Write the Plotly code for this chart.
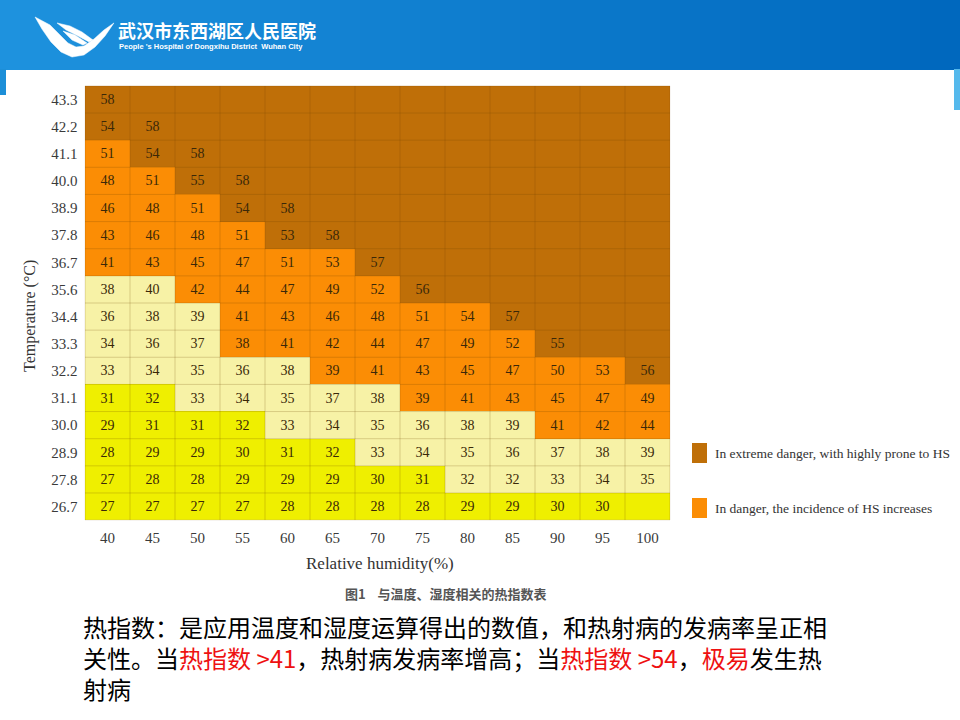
import plotly.graph_objects as go

# heat index table: humidity columns, temperature rows (top to bottom)
humidity = [40, 45, 50, 55, 60, 65, 70, 75, 80, 85, 90, 95, 100]
temperature = ["43.3", "42.2", "41.1", "40.0", "38.9", "37.8", "36.7", "35.6",
               "34.4", "33.3", "32.2", "31.1", "30.0", "28.9", "27.8", "26.7"]

heat_index = [
    [58, None, None, None, None, None, None, None, None, None, None, None, None],
    [54, 58, None, None, None, None, None, None, None, None, None, None, None],
    [51, 54, 58, None, None, None, None, None, None, None, None, None, None],
    [48, 51, 55, 58, None, None, None, None, None, None, None, None, None],
    [46, 48, 51, 54, 58, None, None, None, None, None, None, None, None],
    [43, 46, 48, 51, 53, 58, None, None, None, None, None, None, None],
    [41, 43, 45, 47, 51, 53, 57, None, None, None, None, None, None],
    [38, 40, 42, 44, 47, 49, 52, 56, None, None, None, None, None],
    [36, 38, 39, 41, 43, 46, 48, 51, 54, 57, None, None, None],
    [34, 36, 37, 38, 41, 42, 44, 47, 49, 52, 55, None, None],
    [33, 34, 35, 36, 38, 39, 41, 43, 45, 47, 50, 53, 56],
    [31, 32, 33, 34, 35, 37, 38, 39, 41, 43, 45, 47, 49],
    [29, 31, 31, 32, 33, 34, 35, 36, 38, 39, 41, 42, 44],
    [28, 29, 29, 30, 31, 32, 33, 34, 35, 36, 37, 38, 39],
    [27, 28, 28, 29, 29, 29, 30, 31, 32, 32, 33, 34, 35],
    [27, 27, 27, 27, 28, 28, 28, 28, 29, 29, 30, 30, None],
]

# cell class as printed: Y yellow, L light yellow, O danger, B extreme danger
risk = [
    "BBBBBBBBBBBBB",
    "BBBBBBBBBBBBB",
    "OBBBBBBBBBBBB",
    "OOBBBBBBBBBBB",
    "OOOBBBBBBBBBB",
    "OOOOBBBBBBBBB",
    "OOOOOOBBBBBBB",
    "LLOOOOOBBBBBB",
    "LLLOOOOOOBBBB",
    "LLLOOOOOOOBBB",
    "LLLLLOOOOOOOB",
    "YYLLLLLOOOOOO",
    "YYYYLLLLLLOOO",
    "YYYYYYLLLLLLL",
    "YYYYYYYYLLLLL",
    "YYYYYYYYYYYYY",
]

legend_labels = ["In extreme danger, with highly prone to HS",
                 "In danger, the incidence of HS increases"]

W, H = 960, 720
YELLOW, LIGHT, ORANGE, BROWN = "#efef00", "#f7f2a6", "#fb8d05", "#bf6f08"
code = {"Y": 0, "L": 1, "O": 2, "B": 3}


def px(x):
    return x / W


def py(y):
    return 1 - y / H


def path(points):
    # pixel points -> svg path in paper coords
    return "M " + " L ".join(f"{px(a):.4f},{py(b):.4f}" for a, b in points) + " Z"


z = [[code[c] for c in row] for row in risk]
text = [["" if v is None else str(v) for v in row] for row in heat_index]
xlab = [str(h) for h in humidity]

fig = go.Figure()
fig.add_trace(go.Heatmap(
    z=z, x=xlab, y=temperature, text=text, texttemplate="%{text}",
    textfont=dict(family="Liberation Serif", size=14, color="#3a2808"),
    zmin=-0.5, zmax=3.5, showscale=False, hoverinfo="skip",
    colorscale=[[0, YELLOW], [0.25, YELLOW], [0.25, LIGHT], [0.5, LIGHT],
                [0.5, ORANGE], [0.75, ORANGE], [0.75, BROWN], [1, BROWN]],
))

shapes = []
# cell grid
for i in range(len(humidity) + 1):
    shapes.append(dict(type="line", xref="x", yref="y", x0=i - 0.5, x1=i - 0.5,
                       y0=-0.5, y1=len(temperature) - 0.5,
                       line=dict(color="rgba(110,70,0,0.22)", width=1)))
for j in range(len(temperature) + 1):
    shapes.append(dict(type="line", xref="x", yref="y", y0=j - 0.5, y1=j - 0.5,
                       x0=-0.5, x1=len(humidity) - 0.5,
                       line=dict(color="rgba(110,70,0,0.22)", width=1)))

# slide header band with a left-to-right gradient
n = 48
c0, c1 = (30, 146, 222), (0, 104, 190)
for k in range(n):
    t = k / (n - 1)
    col = tuple(int(c0[m] + (c1[m] - c0[m]) * t) for m in range(3))
    shapes.append(dict(type="rect", xref="paper", yref="paper",
                       x0=px(W * k / n), x1=px(W * (k + 1) / n + 1),
                       y0=py(70), y1=1, line_width=0,
                       fillcolor=f"rgb{col}", layer="below"))
shapes.append(dict(type="rect", xref="paper", yref="paper", x0=0, x1=px(6),
                   y0=py(95), y1=py(69), line_width=0, fillcolor="#1d8fd8"))
shapes.append(dict(type="rect", xref="paper", yref="paper", x0=px(954), x1=1,
                   y0=py(110), y1=py(69), line_width=0, fillcolor="#55b9ec"))

# hospital logo (white swooshes)
logo = [
    [(35, 17), (42, 29), (51, 42), (61, 52), (72, 57), (84, 55), (95, 47),
     (105, 36), (114, 23), (104, 30), (94, 39), (84, 46), (76, 47), (68, 43),
     (60, 35), (50, 25)],
    [(57, 23), (70, 26), (82, 32), (93, 40), (89, 42), (78, 36), (66, 30)],
    [(63, 31), (75, 35), (87, 43), (83, 45), (72, 40)],
]
for pts in logo:
    shapes.append(dict(type="path", xref="paper", yref="paper", path=path(pts),
                       fillcolor="white", line=dict(color="white", width=0.5)))

# legend swatches
for yc, col in [(453, BROWN), (508, ORANGE)]:
    shapes.append(dict(type="rect", xref="paper", yref="paper",
                       x0=px(692), x1=px(707), y0=py(yc + 10), y1=py(yc - 10),
                       line_width=0, fillcolor=col))

ann = []


def note(x, y, s, size, color="#333", family="Liberation Serif", xanchor="left", **kw):
    ann.append(dict(x=px(x), y=py(y), xref="paper", yref="paper", text=s,
                    showarrow=False, xanchor=xanchor, yanchor="middle",
                    font=dict(family=family, size=size, color=color), **kw))


note(116, 30, "<b>武汉市东西湖区人民医院</b>", 18, "white", "Noto Sans CJK SC")
note(117, 46, "<b>People 's Hospital of Dongxihu District  Wuhan City</b>", 7.5,
     "white", "Liberation Sans")
note(30, 316, "Temperature (°C)", 16, textangle=-90, xanchor="center")
note(380, 563, "Relative humidity(%)", 17, xanchor="center")
note(445, 593, "<b>图1    与温度、湿度相关的热指数表</b>", 13, "#555",
     "Noto Sans CJK SC", xanchor="center")
for yc, lab in zip([453, 508], legend_labels):
    note(713, yc, lab, 13.5)

RED = "#ee1111"
body = (
    "热指数：是应用温度和湿度运算得出的数值，和热射病的发病率呈正相<br>"
    f"关性。当<span style='color:{RED}'>热指数 >41</span>，热射病发病率增高；"
    f"当<span style='color:{RED}'>热指数 >54</span>，"
    f"<span style='color:{RED}'>极易</span>发生热<br>"
    "射病"
)
ann.append(dict(x=px(81), y=py(657), xref="paper", yref="paper", text=body,
                showarrow=False, xanchor="left", yanchor="middle", align="left",
                font=dict(family="Noto Sans CJK SC", size=24, color="#000")))

fig.update_layout(
    width=W, height=H, margin=dict(l=0, r=0, t=0, b=0),
    paper_bgcolor="white", plot_bgcolor="white",
    shapes=shapes, annotations=ann, showlegend=False,
    xaxis=dict(domain=[px(84.5), px(670.5)], anchor="y", showgrid=False,
               zeroline=False, ticks="", ticklabelstandoff=6,
               tickfont=dict(family="Liberation Serif", size=15, color="#3a3a3a")),
    yaxis=dict(domain=[py(520.6), py(85.4)], anchor="x", showgrid=False,
               zeroline=False, ticks="", autorange="reversed", ticklabelstandoff=6,
               tickfont=dict(family="Liberation Serif", size=15, color="#3a3a3a")),
)

fig.write_html("out.html", config={"displayModeBar": False},
               post_script="document.body.style.margin='0';")
